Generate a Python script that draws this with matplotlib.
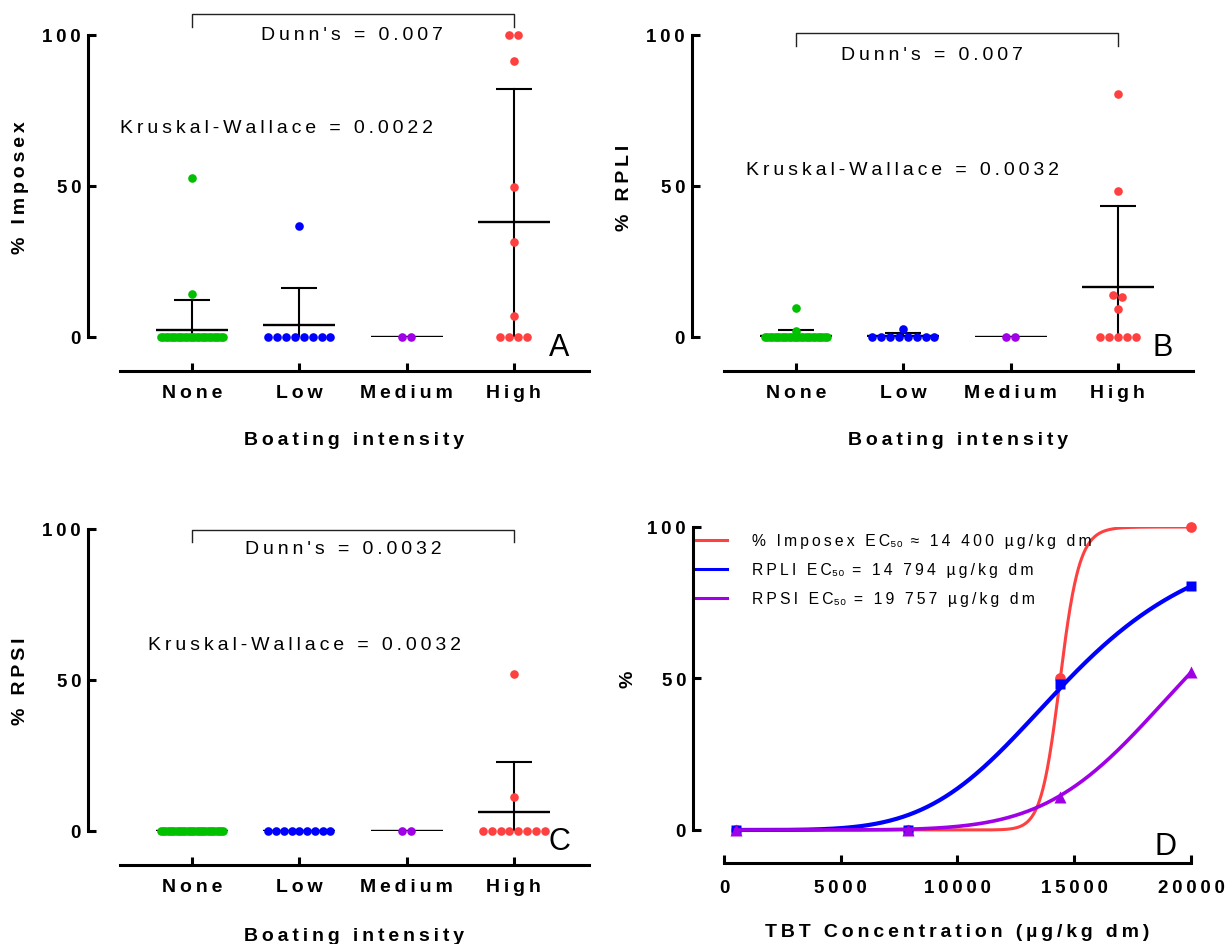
import numpy as np
import matplotlib
matplotlib.use('Agg')
import matplotlib.pyplot as plt
from matplotlib.patches import Rectangle
from matplotlib.lines import Line2D

plt.rcParams['font.family'] = ['Liberation Sans', 'DejaVu Sans']

# ---- data ----
cats = ['None', 'Low', 'Medium', 'High']
colors = ['#00C000', '#0000FF', '#A000E6', '#FF4040']

# panel A: % imposex per site
imp_none = [52.7, 14.2] + [0] * 27
imp_low = [36.6] + [0] * 8
imp_med = [0, 0]
imp_high = [100, 100, 91.5, 49.8, 31.5, 6.8, 0, 0, 0, 0]

# panel B: % RPLI
rpli_none = [9.7, 1.8] + [0] * 27
rpli_low = [2.6] + [0] * 8
rpli_med = [0, 0]
rpli_high = [80.5, 48.2, 14.0, 13.1, 9.3, 0, 0, 0, 0, 0]

# panel C: % RPSI
rpsi_none = [0] * 29
rpsi_low = [0] * 9
rpsi_med = [0, 0]
rpsi_high = [52.0, 11.1] + [0] * 8

# panel D: dose response
tbt = [500, 7900, 14400, 20000]
d_imposex = [0, 0, 50, 100]
d_rpli = [0, 0, 48.1, 80.6]
d_rpsi = [0, 0, 11.0, 52.0]
ec50 = [14400, 14794, 19757]
hill = [35, 4.7, 6.5]


def ls(s):
    # GraphPad style letter spacing
    return '\u2009'.join(s)


def swarm_x(vals, c, step=0.084, maxw=0.58, rowh=2.7):
    vals = np.asarray(vals, float)
    xs = np.full(len(vals), float(c))
    rows = np.round(vals / rowh)
    for r in np.unique(rows):
        idx = np.where(rows == r)[0]
        n = len(idx)
        if n > 1:
            sp = min(step, maxw / (n - 1))
            xs[idx] = c + (np.arange(n) - (n - 1) / 2) * sp
    return xs


def base_axes(rect, xlim, ylim, xbounds):
    ax = fig.add_axes(rect)
    ax.set_xlim(*xlim)
    ax.set_ylim(*ylim)
    for s in ['top', 'right']:
        ax.spines[s].set_visible(False)
    ax.spines['left'].set_bounds(0, 100)
    ax.spines['bottom'].set_bounds(*xbounds)
    for s in ['left', 'bottom']:
        ax.spines[s].set_linewidth(2.2)
        ax.spines[s].set_capstyle('projecting')
    ax.tick_params(direction='in', length=6, width=2.2)
    ax.set_yticks([0, 50, 100])
    ax.set_yticklabels([ls(str(v)) for v in (0, 50, 100)], fontsize=13.5, fontweight='bold')
    ax.tick_params(axis='y', pad=5)
    return ax


def group_panel(rect, groups, ylab, letter, kw, dunn, bracket):
    ax = base_axes(rect, (-0.97, 3.70), (-11.3, 100), (-0.67, 3.70))
    ax.set_xticks(range(4))
    ax.set_xticklabels([ls(c) for c in cats], fontsize=14, fontweight='bold')
    ax.tick_params(axis='x', pad=9.5)
    clip = Rectangle((-2, 0), 10, 300, transform=ax.transData)
    for i, (vals, col) in enumerate(zip(groups, colors)):
        v = np.asarray(vals, float)
        m = v.mean()
        sd = v.std(ddof=1)
        lines = ax.plot([i - 0.335, i + 0.335], [m, m], color='k', lw=1.7, solid_capstyle='butt')
        if sd > 0:
            lines += ax.plot([i, i], [m - sd, m + sd], color='k', lw=1.5)
            lines += ax.plot([i - 0.168, i + 0.168], [m + sd, m + sd], color='k', lw=1.5,
                             solid_capstyle='butt')
        for ln in lines:
            ln.set_clip_path(clip)
        ax.plot(swarm_x(v, i), v, 'o', color=col, ms=6.2, mec='none', zorder=3, clip_on=False)
    ax.set_ylabel(ls(ylab), fontsize=14, fontweight='bold')
    ax.yaxis.set_label_coords(-0.135, 0.549)
    ax.yaxis.label.set_va('center')
    ax.set_xlabel(ls('Boating intensity'), fontsize=14, fontweight='bold')
    ax.xaxis.set_label_coords(0.531, -0.205)
    ax.xaxis.label.set_va('center')
    ax.text(kw[0], kw[1], ls(kw[2]), fontsize=14, ha='center', va='center')
    ax.text(dunn[0], dunn[1], ls(dunn[2]), fontsize=14, ha='center', va='center')
    lo, hi = bracket
    ax.plot([0, 0, 3, 3], [lo, hi, hi, lo], color='#222222', lw=1.0, clip_on=False)
    ax.text(3.42, -3.2, letter, fontsize=22, ha='center', va='center')
    return ax


fig = plt.figure(figsize=(12.25, 9.45), dpi=100)

group_panel([0.07184, 0.60635, 0.40898, 0.35556],
            [imp_none, imp_low, imp_med, imp_high], '% Imposex', 'A',
            (0.785, 69.5, 'Kruskal-Wallace = 0.0022'), (1.488, 100, "Dunn's = 0.007"),
            (102.6, 107))
group_panel([0.56490, 0.60635, 0.40898, 0.35556],
            [rpli_none, rpli_low, rpli_med, rpli_high], '% RPLI', 'B',
            (0.99, 55.6, 'Kruskal-Wallace = 0.0032'), (1.27, 93.7, "Dunn's = 0.007"),
            (96.4, 100.7))
axc = group_panel([0.07184, 0.08360, 0.40898, 0.35556],
                  [rpsi_none, rpsi_low, rpsi_med, rpsi_high], '% RPSI', 'C',
                  (1.05, 61.9, 'Kruskal-Wallace = 0.0032'), (1.41, 93.4, "Dunn's = 0.0032"),
                  (95.7, 99.8))
axc.xaxis.set_label_coords(0.531, -0.21)

# ---- panel D ----
axd = base_axes([0.56571, 0.08571, 0.40653, 0.35556], (-1328, 20000), (-10.9, 100), (0, 20000))
axd.set_xticks([0, 5000, 10000, 15000, 20000])
axd.set_xticklabels([ls(str(v)) for v in (0, 5000, 10000, 15000, 20000)],
                    fontsize=13.5, fontweight='bold')
axd.tick_params(axis='x', pad=11.5)

xc = np.linspace(tbt[0], tbt[-1], 600)
d_cols = ['#FF4040', '#0000FF', '#A000E6']
d_lw = [2.2, 3.0, 2.6]
d_vals = [d_imposex, d_rpli, d_rpsi]
d_mark = ['o', 's', '^']
d_ms = [7.7, 7.0, 8.0]
for k in [2, 1, 0]:
    yc = 100 / (1 + (ec50[k] / xc) ** hill[k])
    axd.plot(xc, yc, color=d_cols[k], lw=d_lw[k], zorder=2 + k)
    axd.plot(tbt, d_vals[k], d_mark[k], color=d_cols[k], ms=d_ms[k], mec='none',
             zorder=2.5 + k, clip_on=False)

labels = [ls('% Imposex EC') + '\u2085\u2080' + ls(' \u2248 14 400 \u00b5g/kg dm'),
          ls('RPLI EC') + '\u2085\u2080' + ls(' = 14 794 \u00b5g/kg dm'),
          ls('RPSI EC') + '\u2085\u2080' + ls(' = 19 757 \u00b5g/kg dm')]
handles = [Line2D([], [], color=c, lw=2.2) for c in d_cols]
axd.legend(handles, labels, loc='upper left', bbox_to_anchor=(0.006, 0.982), frameon=False,
           fontsize=11.3, handlelength=2.0, handletextpad=1.55, labelspacing=0.9,
           borderpad=0, borderaxespad=0)

axd.set_ylabel('%', fontsize=14, fontweight='bold')
axd.yaxis.set_label_coords(-0.13, 0.549)
axd.yaxis.label.set_va('center')
axd.set_xlabel(ls('TBT Concentration (\u00b5g/kg dm)'), fontsize=14, fontweight='bold')
axd.xaxis.set_label_coords(0.531, -0.205)
axd.xaxis.label.set_va('center')
axd.text(18900, -5.2, 'D', fontsize=22, ha='center', va='center')

fig.savefig('out.png', dpi=100)
